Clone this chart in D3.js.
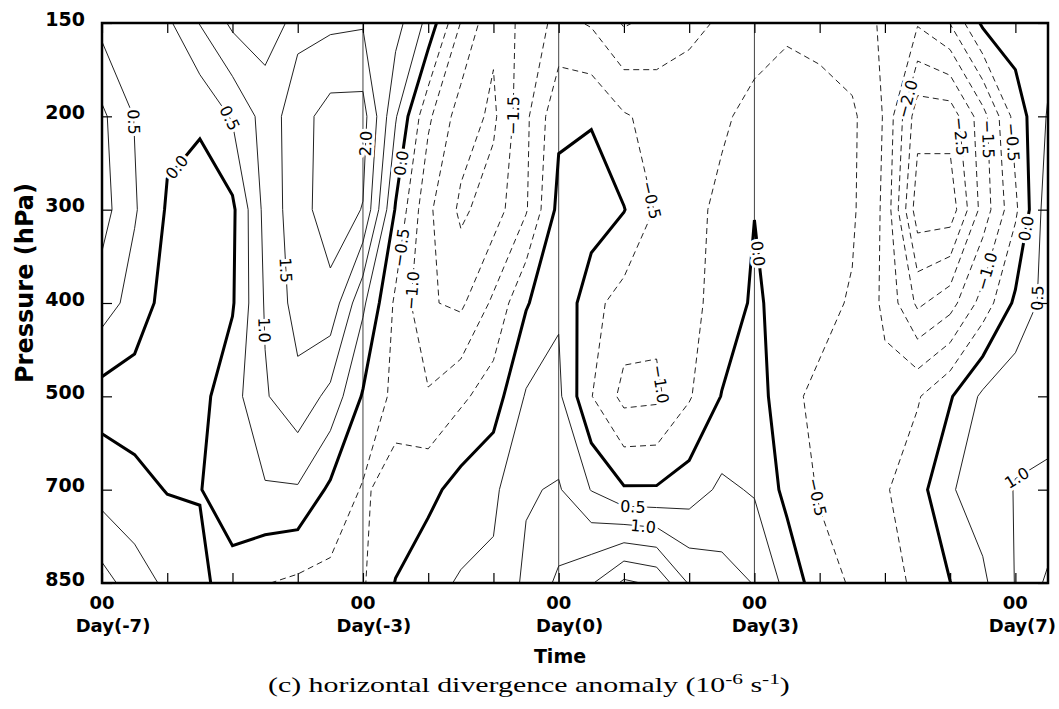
<!DOCTYPE html>
<html lang="en">
<head>
<meta charset="UTF-8"/>
<script src="https://d3js.org/d3.v7.min.js"></script>
<style>
body { margin: 0; background: #fff; }
svg { display: block; }
.axis text { font-family: 'DejaVu Sans', sans-serif; font-weight: bold; font-size: 19px; fill: #000; }
.axis line { stroke: #000; stroke-width: 1.2; }
.axis path { display: none; }
text.xday { font-size: 18px; }
text.axis_title { font-family: 'DejaVu Sans', sans-serif; font-weight: bold; fill: #000; }
text.caption { font-family: 'Liberation Serif', 'Times New Roman', serif; font-size: 21px; fill: #000; }
text.clabel { font-family: 'DejaVu Sans', sans-serif; font-size: 16px; fill: #000;
  stroke: #fff; stroke-width: 6px; paint-order: stroke; stroke-linejoin: round; }
.pos { fill: none; stroke: #222; stroke-width: 1; }
.neg { fill: none; stroke: #222; stroke-width: 1; stroke-dasharray: 6 4; }
.zero { fill: none; stroke: #000; stroke-width: 3; }
</style>
</head>
<body>
<svg width="1059" height="709"></svg>
<script>
// time axis (days) and pressure levels of the grid
const days = [-7, -6.5, -6, -5.5, -5, -4.5, -4, -3.5, -3, -2.5, -2, -1.5, -1, -0.5, 0,
  0.5, 1, 1.5, 2, 2.5, 3, 3.5, 4, 4.5, 5, 5.5, 6, 6.5, 7, 7.5];
const levels = [150, 200, 300, 400, 500, 700, 850];

// divergence anomaly (1e-6 s-1), one array per pressure level, values at the days above
const div150 = [0.35, 0.3, 0.4, 1.02, 1.6, 1.75, 1.35, 1.4, 1.45, 1.2, 0.35, -1.02, -1.9, -1.3, -0.85,
  -1.05, -1.55, -1.35, -1.1, -0.95, -0.8, -0.6, -0.7, -0.85, -1.05, -1.45, -0.98, 0.1, 0.3, 0.3];
const div200 = [1.1, 0.48, 0.1, 0.08, 0.55, 1.2, 1.8, 2.2, 2.2, 0.55, -0.9, -1.75, -2.1, -1.1, -0.1,
  -0.05, -0.45, -0.65, -0.75, -0.6, -0.3, -0.2, -0.25, -0.4, -1.05, -2.8, -2.8, -1.7, -0.3, 0.55];
const div300 = [1.2, 0.55, -0.05, -0.25, -0.1, 1.15, 1.8, 2.25, 1.98, -0.05, -1.4, -2.1, -1.75, -1.05, 0.15,
  0.3, 0.02, -0.55, -0.7, -0.35, -0.01, -0.2, -0.3, -0.42, -1.1, -3.3, -3.3, -1.8, -0.6, 0.8];
const div400 = [0.75, 0.3, -0.2, -0.3, -0.05, 1.05, 1.7, 1.85, 0.6, -0.6, -1.45, -1.6, -0.9, -0.05, 0.45,
  -0.35, -0.7, -0.85, -0.65, -0.3, 0.08, -0.2, -0.35, -0.55, -1.1, -2.1, -1.7, -0.8, 0.1, 0.7];
const div500 = [-0.2, -0.25, -0.3, -0.15, 0.3, 0.95, 1.35, 0.85, -0.05, -0.65, -0.95, -0.6, -0.25, 0.55, 0.6,
  -0.48, -1.15, -1.1, -0.55, 0.02, 0.3, -0.4, -0.6, -0.7, -0.85, -0.55, -0.05, 0.6, 0.85, 0.9];
const div700 = [0.3, 0.15, -0.02, -0.02, 0.3, 0.45, 0.45, -0.1, -0.55, -0.35, -0.15, 0.2, 0.4, 0.95, 1.05,
  0.48, 0.05, 0.05, 0.25, 0.6, 0.45, -0.15, -0.55, -0.65, -0.55, -0.2, 0.45, 0.75, 1.02, 1.05];
const div850 = [1.2, 0.75, 0.4, 0.1, -0.2, -0.48, -0.6, -0.65, -0.55, 0.02, 0.35, 0.55, 0.6, 1.1, 1.6,
  1.95, 2.6, 2.4, 1.45, 1.2, 0.98, 0.35, -0.3, -0.55, -0.6, -0.45, -0.01, 0.4, 1.02, 1.6];

const contourLevels = [-3, -2.5, -2, -1.5, -1, -0.5, 0, 0.5, 1, 1.5, 2, 2.5, 3];
const tickDays = [-7, -6, -5, -4, -3, -2, -1, 0, 1, 2, 3, 4, 5, 6, 7];
const labelDays = [-7, -3, 0, 3, 7];
const lineDays = [-3, 0, 3];

// contour labels: value, approximate day, approximate level position (0 = 150 hPa)
const labelValues = [0.5, 0.5, 0.0, 1.5, 1.0, 2.0, 0.0, -0.5, -1.0, -1.5, -0.5, -1.0, 0.5, 1.0,
  0.0, -0.5, -2.0, -2.5, -1.5, -0.5, 0.0, -1.0, 0.5, 1.0];
const labelDaysAt = [-6.52, -5.05, -5.84, -4.23, -4.52, -3.01, -2.43, -2.48, -2.36, -0.75, 1.4, 1.28, 1.14, 1.29,
  3.19, 3.96, 5.69, 5.92, 6.41, 6.89, 7.07, 6.41, 7.1, 6.95];
const labelLevAt = [1.06, 1.02, 1.55, 2.65, 3.29, 1.29, 1.5, 2.4, 2.86, 0.99, 1.9, 3.9, 5.13, 5.43,
  2.46, 5.08, 0.88, 1.23, 1.25, 1.28, 2.19, 2.63, 2.94, 4.79];

const svg = d3.select('svg');
svg.append('rect').attr('width', 1059).attr('height', 709).attr('fill', '#fff');

const plotL = 102, plotR = 1048, plotT = 23, plotB = 583;

const x = d3.scaleLinear().domain([-7, 7.5]).range([plotL, plotR]);
const y = d3.scalePoint().domain(levels).range([plotT, plotB]);
const levPos = d3.scaleLinear().domain([0, levels.length - 1]).range([plotT, plotB]);

svg.append('clipPath').attr('id', 'plot')
  .append('rect').attr('x', plotL).attr('y', plotT).attr('width', plotR - plotL).attr('height', plotB - plotT);

// thin day lines
svg.append('g').selectAll('line').data(lineDays).join('line')
  .attr('x1', d => x(d)).attr('x2', d => x(d))
  .attr('y1', plotT).attr('y2', plotB)
  .attr('stroke', '#444').attr('stroke-width', 1);

// contours
const grid = [div150, div200, div300, div400, div500, div700, div850];
const nx = days.length, ny = levels.length;
const contours = d3.contours().size([nx, ny]).thresholds(contourLevels)(grid.flat());

const gx = d3.scaleLinear().domain([0.5, nx - 0.5]).range([x(days[0]), x(days[nx - 1])]);
const gy = d3.scaleLinear().domain([0.5, ny - 0.5]).range([y(levels[0]), y(levels[ny - 1])]);

function onEdge(p) { return p[0] <= 0 || p[0] >= nx || p[1] <= 0 || p[1] >= ny; }

// cut each ring where it runs along the grid border, keep the iso-lines only
function ringRuns(ring) {
  let pts = ring.slice();
  const f = pts[0], l = pts[pts.length - 1];
  if (f[0] === l[0] && f[1] === l[1]) pts.pop();
  const k = pts.findIndex(onEdge);
  if (k < 0) return [pts.concat([pts[0]])];
  pts = pts.slice(k).concat(pts.slice(0, k));
  const runs = [];
  let cur = [];
  pts.concat([pts[0]]).forEach(p => {
    if (onEdge(p)) { if (cur.length > 1) runs.push(cur); cur = []; }
    else cur.push(p);
  });
  return runs;
}

const lines = [];
contours.forEach(c => {
  c.coordinates.forEach(poly => poly.forEach(ring => {
    ringRuns(ring).forEach(run => {
      lines.push({ value: c.value, pts: run.map(p => [gx(p[0]), gy(p[1])]) });
    });
  }));
});

const line = d3.line();
const cls = v => v < -1e-9 ? 'neg' : (v > 1e-9 ? 'pos' : 'zero');

svg.append('g').attr('clip-path', 'url(#plot)')
  .selectAll('path').data(lines).join('path')
  .attr('class', d => cls(d.value))
  .attr('d', d => line(d.pts));

// contour labels snapped onto nearest contour segment of that value
function nearest(v, px, py) {
  let best = null;
  lines.filter(l => Math.abs(l.value - v) < 1e-9).forEach(l => {
    for (let i = 0; i < l.pts.length - 1; i++) {
      const [ax, ay] = l.pts[i], [bx, by] = l.pts[i + 1];
      const dx = bx - ax, dy = by - ay;
      const len2 = dx * dx + dy * dy || 1;
      let t = ((px - ax) * dx + (py - ay) * dy) / len2;
      t = Math.max(0, Math.min(1, t));
      const qx = ax + t * dx, qy = ay + t * dy;
      const d = Math.hypot(px - qx, py - qy);
      if (!best || d < best.d) best = { d, x: qx, y: qy, a: Math.atan2(dy, dx) * 180 / Math.PI };
    }
  });
  return best;
}

const fmt = d3.format('.1f');
const labelG = svg.append('g').attr('clip-path', 'url(#plot)');
labelValues.forEach((v, i) => {
  const p = nearest(v, x(labelDaysAt[i]), levPos(labelLevAt[i]));
  if (!p) return;
  let a = p.a;
  if (a > 90) a -= 180;
  if (a <= -90) a += 180;
  labelG.append('text')
    .attr('class', 'clabel')
    .attr('text-anchor', 'middle')
    .attr('dy', '0.36em')
    .attr('transform', `translate(${p.x},${p.y}) rotate(${a})`)
    .text(fmt(v));
});

// axes (ticks pointing inward)
svg.append('g').attr('class', 'axis')
  .attr('transform', `translate(${plotL},0)`)
  .call(d3.axisLeft(y).tickSize(-10).tickPadding(17))
  .selectAll('text').attr('dy', 0).attr('y', 2);

svg.append('g').attr('class', 'axis')
  .attr('transform', `translate(${plotR},0)`)
  .call(d3.axisRight(y).tickSize(-10).tickFormat(''));

svg.append('g').attr('class', 'axis')
  .attr('transform', `translate(0,${plotT})`)
  .call(d3.axisTop(x).tickValues(tickDays).tickSize(-10).tickFormat(''));

svg.append('g').attr('class', 'axis')
  .attr('transform', `translate(0,${plotB})`)
  .call(d3.axisBottom(x).tickValues(tickDays).tickSize(-10).tickFormat(''));

// frame
svg.append('rect')
  .attr('x', plotL).attr('y', plotT).attr('width', plotR - plotL).attr('height', plotB - plotT)
  .attr('fill', 'none').attr('stroke', '#000').attr('stroke-width', 2.5);

// time labels: "00" over "Day(n)"
const xl = svg.append('g').attr('class', 'axis');
xl.selectAll('text.hh').data(labelDays).join('text')
  .attr('class', 'hh xday').attr('text-anchor', 'middle')
  .attr('x', d => x(d)).attr('y', 609).text('00');
xl.selectAll('text.dd').data(labelDays).join('text')
  .attr('class', 'dd xday').attr('text-anchor', 'middle')
  .attr('y', 632).text(d => `Day(${d})`)
  .each(function (d) {
    const w = this.getComputedTextLength();
    d3.select(this).attr('x', Math.min(x(d) + 11, 1056 - w / 2));
  });

svg.append('text')
  .attr('class', 'axis_title')
  .attr('text-anchor', 'middle')
  .attr('font-size', 19)
  .attr('x', 560).attr('y', 663)
  .text('Time');

svg.append('text')
  .attr('class', 'axis_title')
  .attr('text-anchor', 'middle')
  .attr('font-size', 24)
  .attr('transform', 'translate(33,283) rotate(-90)')
  .text('Pressure (hPa)');

// caption
const cap = svg.append('text').attr('class', 'caption').attr('x', 0).attr('y', 0);
cap.append('tspan').text('(c) horizontal divergence anomaly (10');
cap.append('tspan').attr('font-size', 15).attr('dy', -8).text('-6');
cap.append('tspan').attr('dy', 8).text(' s');
cap.append('tspan').attr('font-size', 15).attr('dy', -8).text('-1');
cap.append('tspan').attr('dy', 8).text(')');
const capW = cap.node().getComputedTextLength();
const capL = 268, capR = 790;
cap.attr('transform', `translate(${capL},692) scale(${(capR - capL) / capW},1)`);
</script>
</body>
</html>
